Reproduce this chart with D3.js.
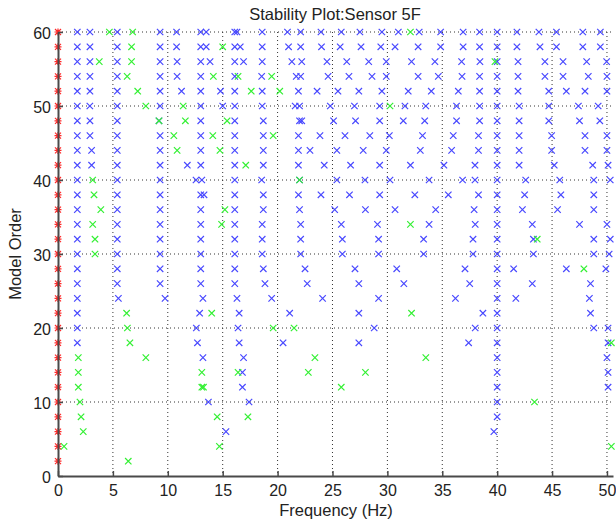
<!DOCTYPE html>
<html>
<head>
<meta charset="utf-8">
<script src="https://cdn.jsdelivr.net/npm/d3@7"></script>
<style>
  body { margin: 0; background: #fff; }
  text { font-family: "Liberation Sans", Arial, sans-serif; fill: #222; }
</style>
</head>
<body>
<div id="chart"></div>
<script>
// model orders, one row per order (top to bottom)
var orders = [60, 58, 56, 54, 52, 50, 48, 46, 44, 42, 40, 38, 36, 34, 32, 30, 28, 26, 24, 22, 20, 18, 16, 14, 12, 10, 8, 6, 4, 2];

// unstable poles: all sit at 0 Hz
var redFreq = 0;

// stable-in-frequency poles (blue), per order
var blueByOrder = [
  [1.76, 2.91, 5.4, 9.3, 10.8, 13.0, 13.5, 16.1, 16.3, 18.6, 20.9, 22.1, 23.95, 25.8, 27.5, 29.5, 31.0, 32.9, 34.85, 36.9, 38.4, 40.0, 41.8, 43.8, 45.4, 47.8, 49.4],
  [1.76, 2.91, 5.4, 9.3, 10.8, 13.0, 13.5, 16.1, 16.6, 18.6, 21.0, 22.1, 24.0, 25.7, 27.6, 29.4, 30.7, 32.8, 34.85, 36.9, 38.4, 40.0, 41.8, 43.9, 45.4, 47.8, 49.4],
  [1.76, 2.91, 5.4, 9.3, 10.85, 13.0, 13.85, 16.1, 16.9, 18.6, 21.3, 22.2, 24.5, 26.3, 28.3, 29.9, 32.2, 34.33, 36.76, 38.43, 40.0, 41.9, 44.35, 46.0, 48.15, 49.97],
  [1.76, 2.91, 5.4, 9.3, 10.85, 13.0, 16.1, 18.55, 21.7, 22.1, 24.6, 26.5, 28.6, 29.9, 32.8, 34.64, 36.8, 38.4, 40.0, 41.9, 44.35, 46.0, 48.3, 50.0],
  [1.76, 2.91, 5.4, 9.3, 11.25, 13.0, 14.8, 16.1, 18.6, 21.9, 23.6, 25.5, 27.4, 29.5, 31.9, 34.0, 36.46, 38.4, 40.0, 41.9, 44.7, 46.3, 48.0, 50.0],
  [1.76, 2.9, 5.4, 9.3, 13.0, 15.0, 16.1, 18.6, 21.6, 22.0, 24.8, 27.0, 29.3, 31.6, 33.5, 36.3, 38.4, 40.0, 42.0, 44.7, 47.4, 49.2],
  [1.76, 2.91, 5.4, 9.2, 13.0, 16.1, 18.7, 22.0, 22.2, 25.1, 27.1, 29.3, 31.45, 33.4, 36.3, 38.4, 40.0, 42.0, 44.7, 47.5, 49.35],
  [1.76, 2.91, 5.4, 9.3, 13.0, 16.1, 18.7, 21.9, 23.86, 26.14, 28.4, 30.18, 33.2, 36.0, 38.3, 40.0, 42.0, 44.96, 48.0, 50.0],
  [1.76, 3.06, 5.4, 9.3, 13.0, 16.1, 18.7, 21.9, 22.95, 25.4, 27.8, 29.9, 33.0, 35.85, 38.3, 40.0, 42.0, 44.96, 48.0, 50.0],
  [1.76, 3.06, 5.4, 9.3, 11.78, 13.0, 16.1, 18.7, 21.9, 24.25, 26.65, 29.3, 32.1, 35.15, 37.98, 40.0, 42.0, 45.2, 48.7, 50.1],
  [1.76, 5.4, 9.3, 12.57, 13.1, 16.1, 18.55, 22.0, 25.4, 27.96, 30.24, 33.8, 36.85, 37.98, 40.0, 42.6, 45.7, 48.8, 50.3],
  [1.76, 5.4, 9.3, 13.0, 13.3, 16.1, 18.7, 21.9, 23.95, 26.55, 29.3, 32.5, 35.55, 38.3, 40.0, 42.5, 45.8, 48.8],
  [1.76, 5.4, 9.3, 13.0, 16.1, 18.7, 22.0, 25.2, 28.0, 30.7, 34.4, 37.9, 40.0, 42.3, 45.5, 48.8],
  [1.76, 5.4, 9.3, 13.0, 16.1, 18.6, 22.1, 25.8, 29.1, 33.8, 38.0, 40.0, 43.2, 47.5, 50.0],
  [1.76, 5.4, 9.3, 13.0, 16.1, 18.6, 22.1, 25.9, 29.2, 33.3, 37.8, 40.0, 43.3, 48.8, 50.3],
  [1.76, 5.4, 9.3, 13.0, 16.1, 18.6, 22.1, 25.9, 29.2, 33.3, 37.8, 40.0, 43.3, 48.8, 50.2],
  [1.76, 5.4, 9.3, 13.0, 16.1, 18.7, 22.5, 27.05, 30.85, 37.07, 40.0, 41.5, 46.3, 49.9],
  [1.76, 5.4, 9.3, 13.0, 16.1, 18.85, 22.7, 27.4, 31.5, 37.5, 40.0, 43.2, 48.5],
  [1.76, 5.5, 9.75, 13.2, 16.3, 19.46, 24.1, 29.2, 36.2, 40.0, 41.7, 48.4],
  [1.76, 12.9, 16.5, 21.1, 27.4, 38.7, 40.0, 48.5],
  [1.76, 12.6, 16.4, 28.8, 38.0, 40.0, 48.8, 50.1],
  [1.76, 12.7, 16.5, 20.5, 27.4, 37.4, 40.0, 50.1],
  [13.2, 16.9, 40.0, 50.0],
  [16.8, 40.0, 50.1],
  [16.8, 40.0, 50.1],
  [13.7, 17.4, 40.0],
  [40.0],
  [15.3, 39.7],
  [],
  []
];

// stable poles (green), per order
var greenByOrder = [
  [4.68, 6.8, 32.1],
  [6.7, 15.0],
  [3.76, 6.7, 39.8],
  [6.3, 14.15, 16.4, 19.46],
  [7.26, 17.6, 20.2],
  [8.0, 11.4, 30.24],
  [9.2, 11.6, 15.4],
  [10.55, 14.1, 19.6],
  [10.85, 14.75],
  [17.1],
  [3.16, 22.0],
  [3.28],
  [3.9, 15.2],
  [3.16, 14.9, 32.1],
  [3.37, 43.65],
  [3.37],
  [47.9],
  [],
  [],
  [6.25, 14.0, 32.2],
  [6.32, 19.6, 21.5],
  [6.55, 50.4],
  [1.85, 8.0, 23.4, 33.5],
  [1.85, 13.1, 16.4, 22.8, 28.0],
  [1.85, 13.1, 13.25, 25.8],
  [2.0, 43.4],
  [2.1, 14.5, 17.3],
  [2.3],
  [0.55, 14.7, 50.4],
  [6.4]
];

var xTicks = [0, 5, 10, 15, 20, 25, 30, 35, 40, 45, 50];
var yTicks = [0, 10, 20, 30, 40, 50, 60];

var svgWidth = 616;
var svgHeight = 527;

var margin = { top: 32, right: 3, bottom: 51, left: 58 };
var width = svgWidth - margin.left - margin.right;
var height = svgHeight - margin.top - margin.bottom;

var svg = d3.select("#chart")
  .append("svg")
  .attr("width", svgWidth)
  .attr("height", svgHeight);

var chart = svg.append("g")
  .attr("transform", `translate(${margin.left}, ${margin.top})`);

var xScale = d3.scaleLinear().domain([0, 50.55]).range([0, width]);
var yScale = d3.scaleLinear().domain([0, 60]).range([height, 0]);

// dotted grid
chart.append("g").selectAll("line")
  .data(xTicks.filter(d => d > 0))
  .enter().append("line")
  .attr("x1", d => xScale(d)).attr("x2", d => xScale(d))
  .attr("y1", 0).attr("y2", height)
  .attr("stroke", "#333").attr("stroke-width", 1)
  .attr("stroke-dasharray", "1,3");

chart.append("g").selectAll("line")
  .data(yTicks.filter(d => d > 0))
  .enter().append("line")
  .attr("x1", 0).attr("x2", width)
  .attr("y1", d => yScale(d)).attr("y2", d => yScale(d))
  .attr("stroke", "#333").attr("stroke-width", 1)
  .attr("stroke-dasharray", "1,3");

function toPoints(rows) {
  var pts = [];
  rows.forEach(function(freqs, i) {
    freqs.forEach(function(f) { pts.push({ f: f, o: orders[i] }); });
  });
  return pts;
}

var xMark = "M-3.2,-3.2L3.2,3.2M-3.2,3.2L3.2,-3.2";
var starMark = "M-3,-3L3,3M-3,3L3,-3M-3.5,0L3.5,0M0,-3.5L0,3.5";

function drawMarks(pts, color, shape) {
  chart.append("g").selectAll("path")
    .data(pts)
    .enter().append("path")
    .attr("d", shape)
    .attr("transform", d => `translate(${xScale(d.f)}, ${yScale(d.o)})`)
    .attr("fill", "none")
    .attr("stroke", color)
    .attr("stroke-width", 1.2);
}

drawMarks(toPoints(blueByOrder), "#4848ff", xMark);
drawMarks(toPoints(greenByOrder), "#33f033", xMark);
drawMarks(orders.map(o => ({ f: redFreq, o: o })), "#ff2a2a", starMark);

// axes drawn on top
var bottomAxis = d3.axisBottom(xScale).tickValues(xTicks).tickSizeInner(-5).tickSizeOuter(0).tickPadding(9);
var leftAxis = d3.axisLeft(yScale).tickValues(yTicks).tickSizeInner(-5).tickSizeOuter(0).tickPadding(7);

var gx = chart.append("g").attr("transform", `translate(0, ${height})`).call(bottomAxis);
var gy = chart.append("g").call(leftAxis);

[gx, gy].forEach(function(g) {
  g.select(".domain").attr("stroke", "#4a4a4a").attr("stroke-width", 2);
  g.selectAll(".tick line").attr("stroke", "#4a4a4a").attr("stroke-width", 1.5);
  g.selectAll(".tick text")
    .attr("font-family", "Liberation Sans, Arial, sans-serif")
    .attr("font-size", 16)
    .attr("fill", "#222");
});
gy.selectAll(".tick text").attr("dy", "0.42em");

svg.append("text")
  .attr("x", 335).attr("y", 20)
  .attr("text-anchor", "middle")
  .attr("font-size", 16.5)
  .text("Stability Plot:Sensor 5F");

svg.append("text")
  .attr("x", 336).attr("y", 516)
  .attr("text-anchor", "middle")
  .attr("font-size", 16.5)
  .text("Frequency (Hz)");

svg.append("text")
  .attr("transform", "translate(21, 254) rotate(-90)")
  .attr("text-anchor", "middle")
  .attr("font-size", 16.5)
  .text("Model Order");
</script>
</body>
</html>
